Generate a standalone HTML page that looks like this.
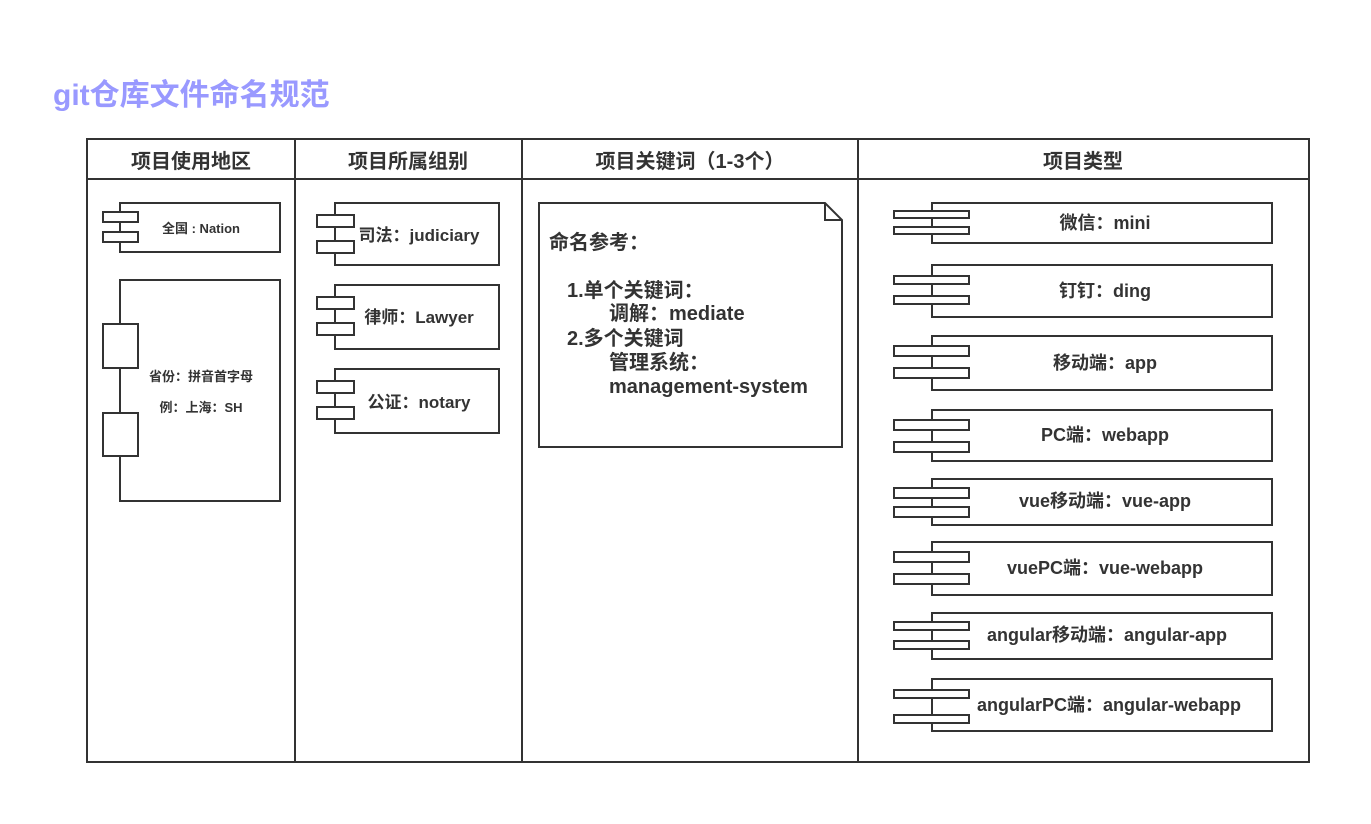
<!DOCTYPE html>
<html><head><meta charset="utf-8"><style>
html,body{margin:0;padding:0;background:#fff;}
svg{display:block;}
text{font-family:"Liberation Sans","Noto Sans CJK SC",sans-serif;font-weight:bold;fill:#333;}
</style></head><body>
<svg width="1371" height="824" viewBox="0 0 1371 824" xmlns="http://www.w3.org/2000/svg">
<text x="53" y="105" style="fill:#9999ff;font-size:30px">git仓库文件命名规范</text>
<g fill="none" stroke="#333" stroke-width="2">
<rect x="87" y="139" width="1222" height="623"/>
<line x1="87" y1="179" x2="1309" y2="179"/>
<line x1="295" y1="139" x2="295" y2="762"/>
<line x1="522" y1="139" x2="522" y2="762"/>
<line x1="858" y1="139" x2="858" y2="762"/>
</g>
<g text-anchor="middle" font-size="20">
<text x="191" y="168">项目使用地区</text>
<text x="408" y="168">项目所属组别</text>
<text x="690" y="168">项目关键词（1-3个）</text>
<text x="1083" y="168">项目类型</text>
</g>
<g fill="#fff" stroke="#333" stroke-width="2">
<rect x="120" y="203" width="160" height="49"/>
<rect x="103" y="212" width="35" height="10"/>
<rect x="103" y="232" width="35" height="10"/>
<rect x="120" y="280" width="160" height="221"/>
<rect x="103" y="324" width="35" height="44"/>
<rect x="103" y="413" width="35" height="43"/>
<rect x="335" y="203" width="164" height="62"/>
<rect x="317" y="215" width="37" height="12"/>
<rect x="317" y="241" width="37" height="12"/>
<rect x="335" y="285" width="164" height="64"/>
<rect x="317" y="297" width="37" height="12"/>
<rect x="317" y="323" width="37" height="12"/>
<rect x="335" y="369" width="164" height="64"/>
<rect x="317" y="381" width="37" height="12"/>
<rect x="317" y="407" width="37" height="12"/>
<path d="M539 203 H825 L842 220 V447 H539 Z"/>
<path d="M825 203 V220 H842" fill="none"/>
<rect x="932" y="203" width="340" height="40"/>
<rect x="894" y="211" width="75" height="7"/><rect x="894" y="227" width="75" height="7"/>
<rect x="932" y="265" width="340" height="52"/>
<rect x="894" y="276" width="75" height="8"/><rect x="894" y="296" width="75" height="8"/>
<rect x="932" y="336" width="340" height="54"/>
<rect x="894" y="346" width="75" height="10"/><rect x="894" y="368" width="75" height="10"/>
<rect x="932" y="410" width="340" height="51"/>
<rect x="894" y="420" width="75" height="10"/><rect x="894" y="442" width="75" height="10"/>
<rect x="932" y="479" width="340" height="46"/>
<rect x="894" y="488" width="75" height="10"/><rect x="894" y="507" width="75" height="10"/>
<rect x="932" y="542" width="340" height="53"/>
<rect x="894" y="552" width="75" height="10"/><rect x="894" y="574" width="75" height="10"/>
<rect x="932" y="613" width="340" height="46"/>
<rect x="894" y="622" width="75" height="8"/><rect x="894" y="641" width="75" height="8"/>
<rect x="932" y="679" width="340" height="52"/>
<rect x="894" y="690" width="75" height="8"/><rect x="894" y="715" width="75" height="8"/>
</g>
<g text-anchor="middle">
<text x="201" y="233" font-size="13">全国 : Nation</text>
<text x="201" y="381" font-size="13">省份：拼音首字母</text>
<text x="201" y="412" font-size="13">例：上海：SH</text>
<text x="419" y="241" font-size="17">司法：judiciary</text>
<text x="419" y="323" font-size="17">律师：Lawyer</text>
<text x="419" y="408" font-size="17">公证：notary</text>
<g font-size="18">
<text x="1105" y="229">微信：mini</text>
<text x="1105" y="297">钉钉：ding</text>
<text x="1105" y="369">移动端：app</text>
<text x="1105" y="441">PC端：webapp</text>
<text x="1105" y="507">vue移动端：vue-app</text>
<text x="1105" y="574">vuePC端：vue-webapp</text>
<text x="1107" y="641">angular移动端：angular-app</text>
<text x="1109" y="711">angularPC端：angular-webapp</text>
</g>
</g>
<g font-size="20">
<text x="549" y="249">命名参考：</text>
<text x="567" y="297">1.单个关键词：</text>
<text x="609" y="320">调解：mediate</text>
<text x="567" y="345">2.多个关键词</text>
<text x="609" y="369">管理系统：</text>
<text x="609" y="393">management-system</text>
</g>
</svg>
</body></html>
